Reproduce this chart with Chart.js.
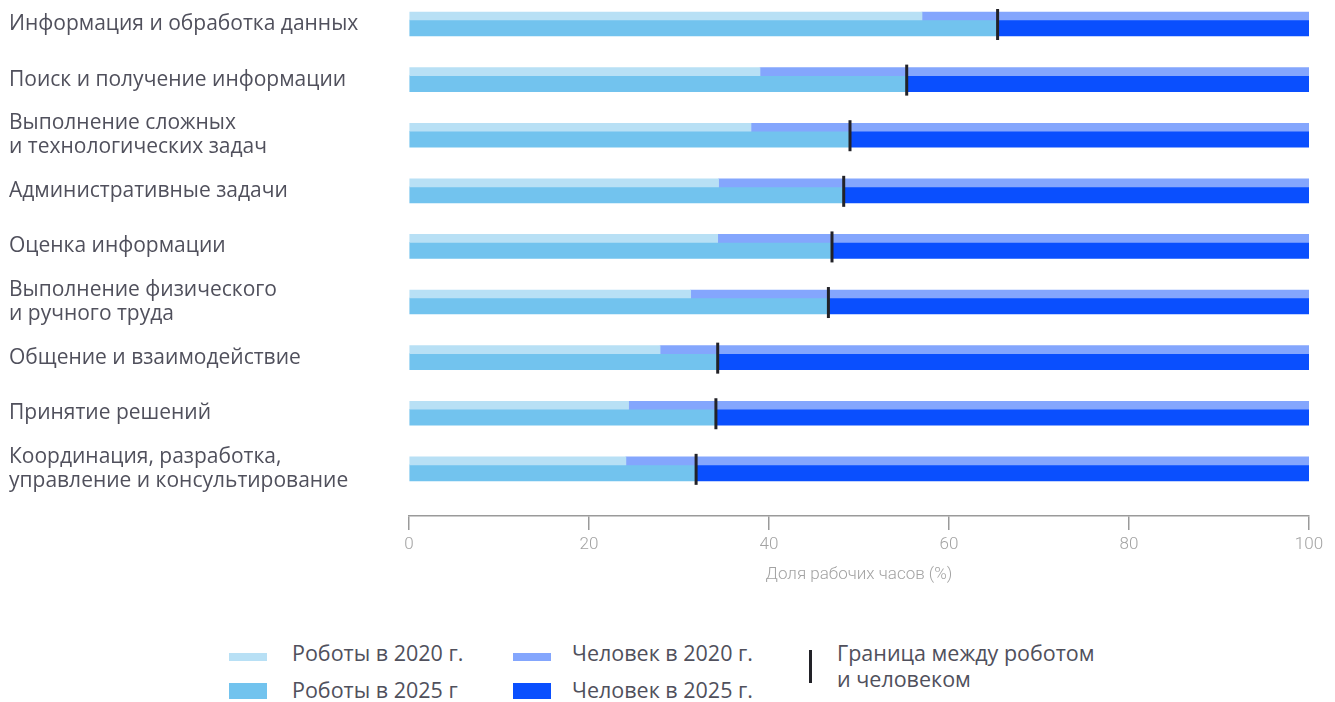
<!DOCTYPE html>
<html lang="ru">
<head>
<meta charset="utf-8">
<title>Доля рабочих часов: роботы и человек</title>
<script src="https://cdn.jsdelivr.net/npm/chart.js@4/dist/chart.umd.min.js"></script>
<style>
  html, body { margin: 0; padding: 0; background: #fff; }
  #wrap { position: relative; width: 1335px; height: 702px; overflow: hidden; font-family: "Open Sans", "Noto Sans", sans-serif; color: #50505c; }
  #wrap canvas { position: absolute; left: 0; top: 0; }
  .sw { position: absolute; width: 38px; }
  .lt { position: absolute; font-size: 21.5px; line-height: 24px; white-space: nowrap; }
  .mk { position: absolute; width: 3px; height: 33px; background: #222228; }
</style>
</head>
<body>
<div id="wrap">
  <canvas id="tasks-chart" width="1335" height="600"></canvas>

  <!-- legend -->
  <div class="sw" style="left:229px;top:653px;height:8px;background:#b8e0f5"></div>
  <div class="lt" style="left:292px;top:641px">Роботы в 2020 г.</div>
  <div class="sw" style="left:229px;top:683px;height:16px;background:#72c3ee"></div>
  <div class="lt" style="left:292px;top:678px">Роботы в 2025 г</div>

  <div class="sw" style="left:513px;top:653px;height:8px;background:#84a6fd"></div>
  <div class="lt" style="left:572px;top:641px">Человек в 2020 г.</div>
  <div class="sw" style="left:513px;top:683px;height:16px;background:#0a4ffe"></div>
  <div class="lt" style="left:572px;top:678px">Человек в 2025 г.</div>

  <div class="mk" style="left:809px;top:650px"></div>
  <div class="lt" style="left:837px;top:640px;line-height:26px">Граница между роботом<br>и человеком</div>
</div>

<script>
// task groups, top to bottom
const categories = [
  'Информация и обработка данных',
  'Поиск и получение информации',
  ['Выполнение сложных', 'и технологических задач'],
  'Административные задачи',
  'Оценка информации',
  ['Выполнение физического', 'и ручного труда'],
  'Общение и взаимодействие',
  'Принятие решений',
  ['Координация, разработка,', 'управление и консультирование']
];

// share of working hours done by machines (%)
const robots2020 = [57.0, 39.0, 38.0, 34.4, 34.3, 31.3, 27.9, 24.4, 24.1];
const robots2025 = [65.4, 55.3, 49.0, 48.3, 47.0, 46.6, 34.3, 34.1, 31.9];

const xTicks = [0, 20, 40, 60, 80, 100];
const TOTAL = 100;

const COLORS = {
  robots2020: '#b8e0f5',
  robots2025: '#72c3ee',
  human2020: '#84a6fd',
  human2025: '#0a4ffe',
  border: '#222228'
};

// rows are placed on a numeric index axis so the x axis can sit below the last row with a gap
const robotPoints = (arr) => arr.map((v, i) => ({ x: v, y: i }));
const humanPoints = (arr) => arr.map((v, i) => ({ x: [v, TOTAL], y: i }));

// vertical tick at the robot/human split of the 2025 bar
const boundaryPlugin = {
  id: 'boundaryMarks',
  afterDatasetsDraw(chart) {
    const { ctx, scales } = chart;
    ctx.save();
    ctx.strokeStyle = COLORS.border;
    ctx.lineWidth = 3;
    robots2025.forEach((v, i) => {
      const x = scales.x.getPixelForValue(v);
      const y = scales.y.getPixelForValue(i);
      ctx.beginPath();
      ctx.moveTo(x, y - 11);
      ctx.lineTo(x, y + 20);
      ctx.stroke();
    });
    ctx.restore();
  }
};

new Chart(document.getElementById('tasks-chart'), {
  type: 'bar',
  data: {
    datasets: [
      { label: 'Роботы в 2020 г.', data: robotPoints(robots2020), backgroundColor: COLORS.robots2020, stack: '2020', barThickness: 8 },
      { label: 'Человек в 2020 г.', data: humanPoints(robots2020), backgroundColor: COLORS.human2020, stack: '2020', barThickness: 8 },
      { label: 'Роботы в 2025 г', data: robotPoints(robots2025), backgroundColor: COLORS.robots2025, stack: '2025', barThickness: 16 },
      { label: 'Человек в 2025 г.', data: humanPoints(robots2025), backgroundColor: COLORS.human2025, stack: '2025', barThickness: 16 }
    ]
  },
  options: {
    indexAxis: 'y',
    responsive: false,
    animation: false,
    layout: { padding: { left: 9, right: 26, top: 0, bottom: 0 } },
    plugins: { legend: { display: false }, tooltip: { enabled: false } },
    scales: {
      x: {
        type: 'linear',
        stacked: false,
        min: 0,
        max: 100,
        afterBuildTicks: (scale) => { scale.ticks = xTicks.map(v => ({ value: v })); },
        afterFit: (scale) => { scale.height = 84; },
        grid: { drawOnChartArea: false, drawTicks: true, tickLength: 14, color: '#9a9a9a', lineWidth: 1.5 },
        border: { display: true, color: '#9a9a9a', width: 1.5 },
        ticks: { color: '#a3a3a3', padding: 5, font: { family: 'Roboto', weight: 300, size: 17 } },
        title: {
          display: true,
          text: 'Доля рабочих часов (%)',
          color: '#a3a3a3',
          font: { family: 'Roboto', weight: 300, size: 17 },
          padding: { top: 0, bottom: 15 }
        }
      },
      y: {
        type: 'linear',
        reverse: true,
        offset: false,
        min: -0.36,
        max: 8.92,
        afterFit: (scale) => {
          scale.width = 400;
          scale.paddingTop = 0;
          scale.paddingBottom = 0;
        },
        grid: { display: false, offset: false },
        border: { display: false },
        ticks: {
          stepSize: 1,
          includeBounds: false,
          autoSkip: false,
          crossAlign: 'far',
          labelOffset: 4,
          color: '#50505c',
          font: { family: 'Open Sans', size: 21, lineHeight: 1.15 },
          callback: (value) => categories[value]
        }
      }
    }
  },
  plugins: [boundaryPlugin]
});
</script>
</body>
</html>
